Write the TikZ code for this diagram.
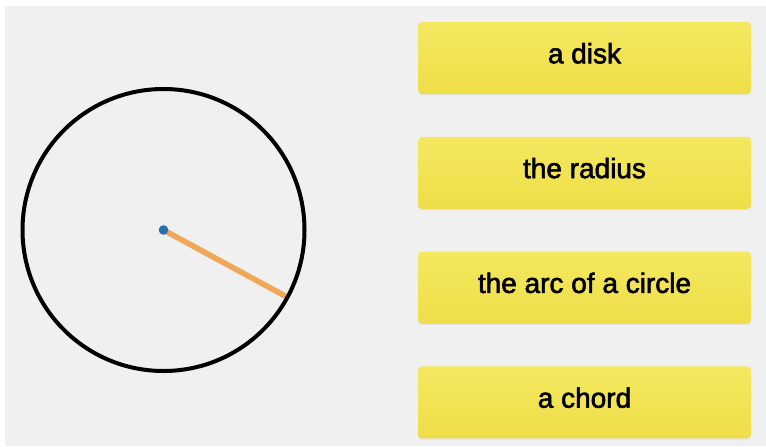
\documentclass[tikz,border=0pt]{standalone}
\usepackage{fontspec}
\setmainfont{Liberation Sans}
\newfontfamily\cardfont[FakeBold=2]{Liberation Sans}
\usetikzlibrary{positioning, shadows}
\definecolor{boardGray}{RGB}{240,240,240}
\definecolor{cardYellow}{RGB}{243,232,95}
\definecolor{cardGold}{RGB}{239,222,72}
\definecolor{radiusOrange}{RGB}{239,168,88}
\definecolor{centerBlue}{RGB}{40,110,180}

\begin{document}
\begin{tikzpicture}[x=1pt, y=1pt, node distance=21pt,
card/.style={rectangle, rounded corners=2pt, top color=cardYellow,
bottom color=cardGold, minimum width=166.5pt, minimum height=36pt,
inner sep=0pt, text height=9pt, text depth=3.7pt,
font=\cardfont\fontsize{14}{16}\selectfont,
drop shadow={opacity=0.12, shadow xshift=0pt, shadow yshift=-0.6pt}},
radiusline/.style={radiusOrange, line width=2.8pt}]
\useasboundingbox (0,0) rectangle (383,223);
\fill[boardGray] (2.5,0) rectangle (383,220);
% circle with one radius
\coordinate (O) at (81.75,108);
\path (O) ++(-28.5:70.5) coordinate (P);
\draw[radiusline] (O) -- (P);
\draw[line width=2pt] (O) circle (70.5);
\fill[centerBlue] (O) circle (2.4pt);
% answer cards
\node[card] (disk) at (292.25,194) {a disk};
\node[card, below=of disk] (radius) {the radius};
\node[card, below=of radius] (arc) {the arc of a circle};
\node[card, below=of arc] (chord) {a chord};
\end{tikzpicture}
\end{document}
